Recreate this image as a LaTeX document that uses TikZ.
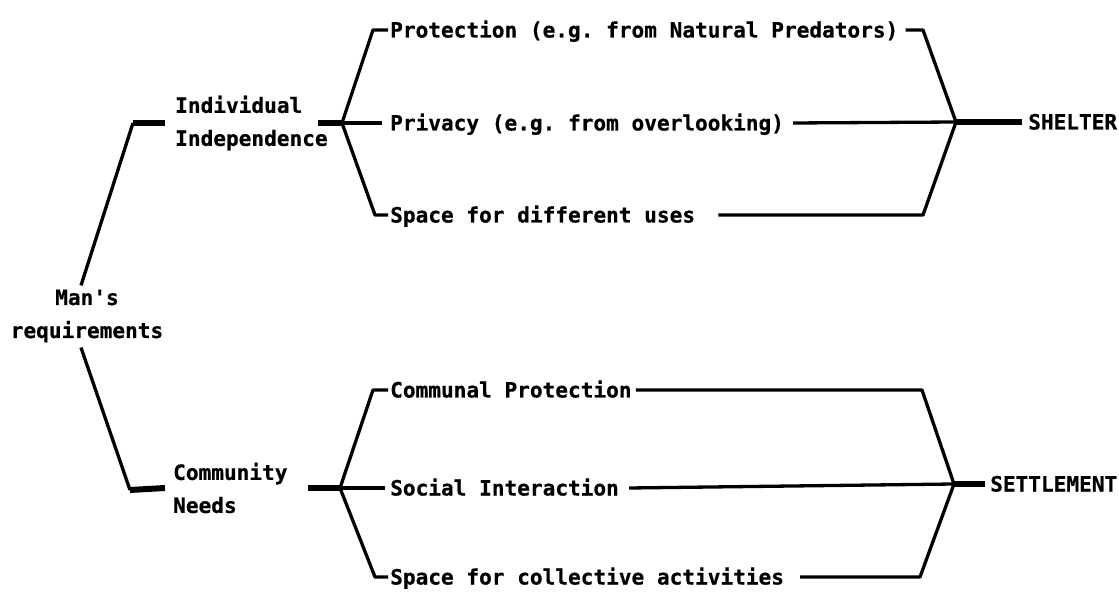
\documentclass[tikz,border=0pt]{standalone}
\usepackage{fontspec}
\setmainfont{DejaVu Sans Mono}[BoldFeatures={FakeBold=0.6}]
\usepackage{tikz}
\frenchspacing

\begin{document}
\begin{tikzpicture}[x=1pt,y=-1pt,
    link/.style={line width=3.3pt, line join=round},
    stub/.style={line width=6pt},
    lab/.style={anchor=west, inner sep=0pt, align=left,
      font=\fontsize{21.1}{33}\selectfont\bfseries},
    item/.style={lab, text height=15pt, text depth=0pt}]
  \useasboundingbox (0,0) rectangle (1119,593);

  % labels
  \node[lab, anchor=center, align=center] (man) at (87,316) {Man\textquotesingle s\\requirements};
  \node[lab] (indep) at (175,123) {Individual\\Independence};
  \node[lab] (need) at (173,488) {Community\\Needs};

  \node[item] (prot) at (390,30) {Protection (e.g. from Natural Predators)};
  \node[item] (priv) at (390,123) {Privacy (e.g. from overlooking)};
  \node[item] (diff) at (390,215) {Space for different uses};
  \node[item] (comm) at (390,390) {Communal Protection};
  \node[item] (social) at (390,488) {Social Interaction};
  \node[item] (coll) at (390,577) {Space for collective activities};

  \node[item] (shelter) at (1028,122) {SHELTER};
  \node[item] (settle) at (990,484) {SETTLEMENT};

  % junctions
  \coordinate (jIndiv) at (133,123);
  \coordinate (jComm) at (130,490);
  \coordinate (jShelterL) at (342,123);
  \coordinate (jShelterR) at (956,122);
  \coordinate (jSettleL) at (340,488);
  \coordinate (jSettleR) at (954,484);

  \draw[link] ([xshift=-6pt,yshift=4pt]man.north) -- (jIndiv);
  \draw[link] ([xshift=-6pt,yshift=-5pt]man.south) -- (jComm);
  \draw[stub] (jIndiv) -- ([xshift=-10pt]indep.west);
  \draw[stub] (jComm) -- ([xshift=-8pt]need.west);

  % shelter
  \draw[stub] ([xshift=-10pt]indep.east) -- (jShelterL);
  \draw[link] (jShelterL) -- (373,30) -- ([xshift=-2pt]prot.west);
  \draw[link] (jShelterL) -- ([xshift=-8pt]priv.west);
  \draw[link] (jShelterL) -- (375,215) -- ([xshift=-2pt]diff.west);
  \draw[link] ([xshift=7pt]prot.east) -- (923,30) -- (jShelterR);
  \draw[link] ([xshift=9pt]priv.east) -- (jShelterR);
  \draw[link] ([xshift=23pt]diff.east) -- (923,215) -- (jShelterR);
  \draw[stub] (jShelterR) -- ([xshift=-6pt]shelter.west);

  % settlement
  \draw[stub] ([xshift=20pt]need.east) -- (jSettleL);
  \draw[link] (jSettleL) -- (373,390) -- ([xshift=-2pt]comm.west);
  \draw[link] (jSettleL) -- ([xshift=-5pt]social.west);
  \draw[link] (jSettleL) -- (375,577) -- ([xshift=-2pt]coll.west);
  \draw[link] ([xshift=4pt]comm.east) -- (922,390) -- (jSettleR);
  \draw[link] ([xshift=10pt]social.east) -- (jSettleR);
  \draw[link] ([xshift=16pt]coll.east) -- (920,577) -- (jSettleR);
  \draw[stub] (jSettleR) -- ([xshift=-5pt]settle.west);
\end{tikzpicture}
\end{document}
